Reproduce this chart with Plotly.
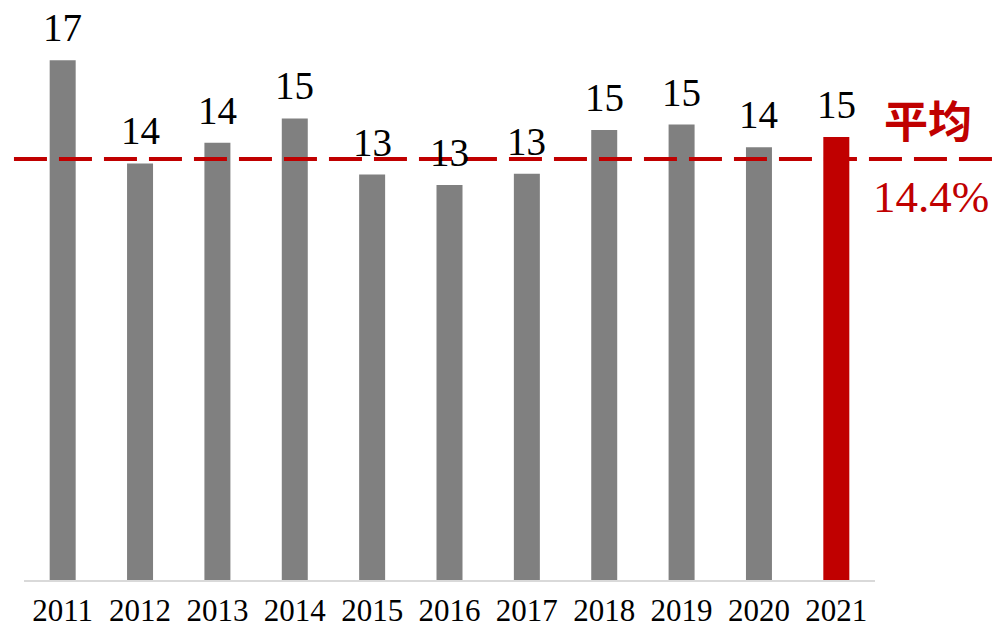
import plotly.graph_objects as go

# Yearly values; bar labels show the whole-number part
years = ["2011", "2012", "2013", "2014", "2015", "2016",
         "2017", "2018", "2019", "2020", "2021"]
values = [17.78, 14.25, 14.96, 15.79, 13.87, 13.51,
          13.90, 15.39, 15.58, 14.80, 15.15]
average = 14.4
highlight_year = "2021"

GRAY = "#808080"
RED = "#C00000"
SERIF = "Liberation Serif, Times New Roman, serif"
CJK = "Noto Sans CJK SC, sans-serif"

y_max = 19.155

colors = [RED if y == highlight_year else GRAY for y in years]
labels = [str(int(v)) for v in values]

fig = go.Figure()
fig.add_trace(go.Bar(
    x=years, y=values,
    marker=dict(color=colors, line=dict(width=0)),
    hoverinfo="x+y",
))

# value labels above each bar (positioned by category index)
for i, (v, lab) in enumerate(zip(values, labels)):
    fig.add_annotation(
        x=i, y=v, xref="x", yref="y", text=lab, showarrow=False,
        yanchor="bottom", yshift=9,
        font=dict(family=SERIF, size=39, color="#000000"),
    )

# dashed average line spanning past the plot area
avg_p = average / y_max
fig.add_shape(
    type="line", xref="paper", yref="paper",
    x0=-0.0118, x1=1.14, y0=avg_p, y1=avg_p,
    line=dict(color=RED, width=4, dash="33px,12px"),
    layer="above",
)
fig.add_annotation(
    x=1.062, y=avg_p, xref="paper", yref="paper", text="<b>平均</b>",
    showarrow=False, xanchor="center", yanchor="bottom", yshift=6,
    font=dict(family=CJK, size=44, color=RED),
)
fig.add_annotation(
    x=1.066, y=avg_p, xref="paper", yref="paper", text=f"{average:.1f}%",
    showarrow=False, xanchor="center", yanchor="top", yshift=-11,
    font=dict(family=SERIF, size=45, color=RED),
)

fig.update_layout(
    width=994, height=629,
    margin=dict(l=24, r=119, t=20, b=49),
    paper_bgcolor="white", plot_bgcolor="white",
    bargap=0.664,
    showlegend=False,
    xaxis=dict(
        type="category", range=[-0.5, len(years) - 0.5],
        automargin=False,
        showline=True, linecolor="#D9D9D9", linewidth=1.5,
        ticks="", showgrid=False, zeroline=False,
        tickfont=dict(family=SERIF, size=31, color="#000000"),
        ticklabelstandoff=2,
    ),
    yaxis=dict(
        range=[0, y_max], visible=False, showgrid=False, zeroline=False,
        automargin=False,
    ),
)

fig.write_html("out.html")
